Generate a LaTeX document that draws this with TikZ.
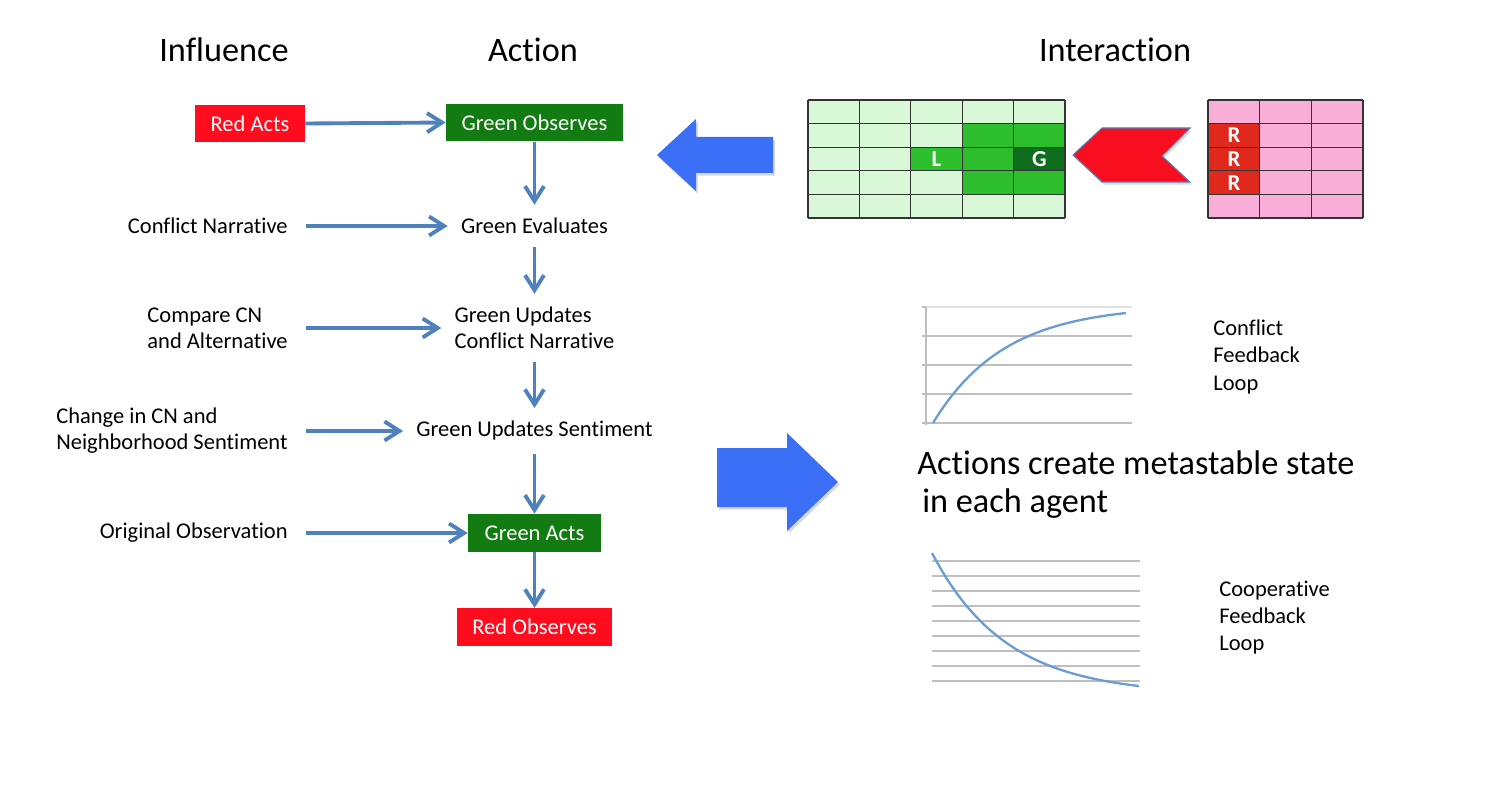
\documentclass[tikz,border=0pt]{standalone}
\usepackage{fontspec}
\setmainfont{Carlito}[Ligatures=NoCommon]
\usepackage{xcolor}
\usepackage{tikz}
\usetikzlibrary{arrows.meta,shadows}

\definecolor{actred}{RGB}{255,12,30}
\definecolor{actgreen}{RGB}{18,124,18}
\definecolor{flowblue}{RGB}{79,129,189}
\definecolor{blockblue}{RGB}{59,111,246}
\definecolor{chevred}{RGB}{248,15,31}
\definecolor{cellpale}{RGB}{216,248,216}
\definecolor{cellmid}{RGB}{44,190,44}
\definecolor{celldark}{RGB}{14,110,30}
\definecolor{cellpink}{RGB}{249,175,216}
\definecolor{cellred}{RGB}{224,40,28}
\definecolor{curveblue}{RGB}{106,156,212}

\begin{document}
\begin{tikzpicture}[
  x=0.02cm, y=-0.02cm,
  font=\fontsize{12.8}{14.8}\selectfont,
  hd/.style={font=\fontsize{19.5}{22.5}\selectfont},
  inf/.style={anchor=east, inner xsep=0.36cm, inner ysep=3pt, align=left},
  act/.style={inner sep=0.26cm, align=left},
  rbox/.style={fill=actred, text=white, minimum height=0.75cm, inner sep=2pt},
  gbox/.style={fill=actgreen, text=white, minimum height=0.76cm, inner sep=2pt},
  fl/.style={-{Straight Barb[length=3mm,width=3.8mm]}, draw=flowblue, line width=2.2pt},
  blk/.style={drop shadow={opacity=0.3, shadow xshift=1pt, shadow yshift=-1.5pt}},
  gridln/.style={draw=black!80, line width=0.6pt},
  cell/.style={font=\fontsize{13}{15}\selectfont\bfseries, text=white, inner sep=0pt},
  chln/.style={draw=black!25, line width=0.8pt},
  curve/.style={draw=curveblue, line width=1.3pt},
  lbl/.style={align=left, inner sep=0pt, font=\fontsize{12.8}{15.4}\selectfont},
]
\useasboundingbox (0,0) rectangle (1512,794);

% ---------- headings ----------
\node[hd] (tinf) at (224,50) {Influence};
\node[hd] (tact) at (533,50) {Action};
\node[hd] (tint) at (1115,50) {Interaction};

% ---------- action chain ----------
\node[rbox, minimum width=2.2cm] (redacts) at (250,123.5) {Red Acts};
\node[gbox, minimum width=3.54cm] (gobs) at (534.5,122.5) {Green Observes};
\node[act] (geval) at (534.5,226) {Green Evaluates};
\node[act] (gupd) at (534.5,328) {Green Updates\\Conflict Narrative};
\node[act] (gsent) at (534.5,431) {Green Updates Sentiment};
\node[gbox, minimum width=2.66cm] (gacts) at (534.5,533) {Green Acts};
\node[rbox, minimum width=3.12cm] (robs) at (534.5,627) {Red Observes};

% ---------- influences ----------
\node[inf] (cn) at (306,226) {Conflict Narrative};
\node[inf] (cmp) at (306,328) {Compare CN\\and Alternative};
\node[inf] (chg) at (306,431) {Change in CN and\\Neighborhood Sentiment};
\node[inf] (orig) at (306,533) {Original Observation};

\draw[fl] (redacts.east) -- (gobs.west);
\draw[fl] (cn.east) -- (geval.west);
\draw[fl] (cmp.east) -- (gupd.west);
\draw[fl] (chg.east) -- (gsent.west);
\draw[fl] (orig.east) -- (gacts.west);

\draw[fl] (gobs.south) -- (geval.north);
\draw[fl] (geval.south) -- (gupd.north);
\draw[fl] (gupd.south) -- (gsent.north);
\draw[fl] (gsent.south) -- (gacts.north);
\draw[fl] (gacts.south) -- (robs.north);

% ---------- interaction grids ----------
\fill[cellpale] (808,100) rectangle (1065,218);
\foreach \c/\r in {3/1,4/1,2/2,3/2,3/3,4/3}
  \fill[cellmid] ({808+\c*51.4},{100+\r*23.6}) rectangle ++(51.4,23.6);
\fill[celldark] ({808+4*51.4},{100+2*23.6}) rectangle ++(51.4,23.6);
\foreach \c in {0,...,5} \draw[gridln] ({808+\c*51.4},100) -- ({808+\c*51.4},218);
\foreach \r in {0,...,5} \draw[gridln] (808,{100+\r*23.6}) -- (1065,{100+\r*23.6});
\node[cell] (lcell) at (936.5,159) {L};
\node[cell] (gcell) at (1039.3,159) {G};

\fill[cellpink] (1208,100) rectangle (1363,218);
\fill[cellred] (1208,{100+23.6}) rectangle ++(51.7,{3*23.6});
\foreach \c in {0,...,3} \draw[gridln] ({1208+\c*51.67},100) -- ({1208+\c*51.67},218);
\foreach \r in {0,...,5} \draw[gridln] (1208,{100+\r*23.6}) -- (1363,{100+\r*23.6});
\foreach \r in {1,2,3}
  \node[cell] (rcell\r) at (1234,{100+(\r+0.5)*23.6}) {R};

% ---------- block arrows ----------
\filldraw[chevred, draw=flowblue, line width=0.6pt, blk]
  (1073,155) -- (1102,128) -- (1190,128) -- (1162,156) -- (1190,182) -- (1102,182) -- cycle;
\fill[blockblue, blk]
  (657,155) -- (696,119) -- (696,137) -- (773,137) -- (773,173) -- (696,173) -- (696,191) -- cycle;
\fill[blockblue, blk]
  (717,448) -- (787,448) -- (787,433) -- (838,482) -- (787,531) -- (787,507) -- (717,507) -- cycle;

% ---------- feedback charts ----------
\draw[chln, draw=black!12] (926,307) -- (1132,307);
\foreach \yy in {336,365,394,423} \draw[chln] (926,\yy) -- (1132,\yy);
\draw[chln] (926,307) -- (926,425);
\foreach \yy in {307,336,365,394,423} \draw[chln] (922,\yy) -- (926,\yy);
\draw[curve] plot[domain=933:1126, samples=60, smooth]
  (\x, {423 - 110*(1-exp(-2.7*(\x-933)/193))/(1-exp(-2.7))});
\node[lbl, anchor=west] (conf) at (1213,357) {Conflict\\Feedback\\Loop};

\foreach \yy in {561,576,...,681} \draw[chln] (932,\yy) -- (1140,\yy);
\draw[curve] plot[domain=932:1139, samples=60, smooth]
  (\x, {553 + 133*(1-exp(-2.8*(\x-932)/207))/(1-exp(-2.8))});
\node[lbl, anchor=west] (coop) at (1219,618) {Cooperative\\Feedback\\Loop};

\node[hd, align=left, inner sep=0pt, anchor=north west, font=\fontsize{19.5}{22}\selectfont]
  (meta) at (917,450) {Actions create metastable state\\\hspace*{0.1cm}in each agent};
\end{tikzpicture}
\end{document}
